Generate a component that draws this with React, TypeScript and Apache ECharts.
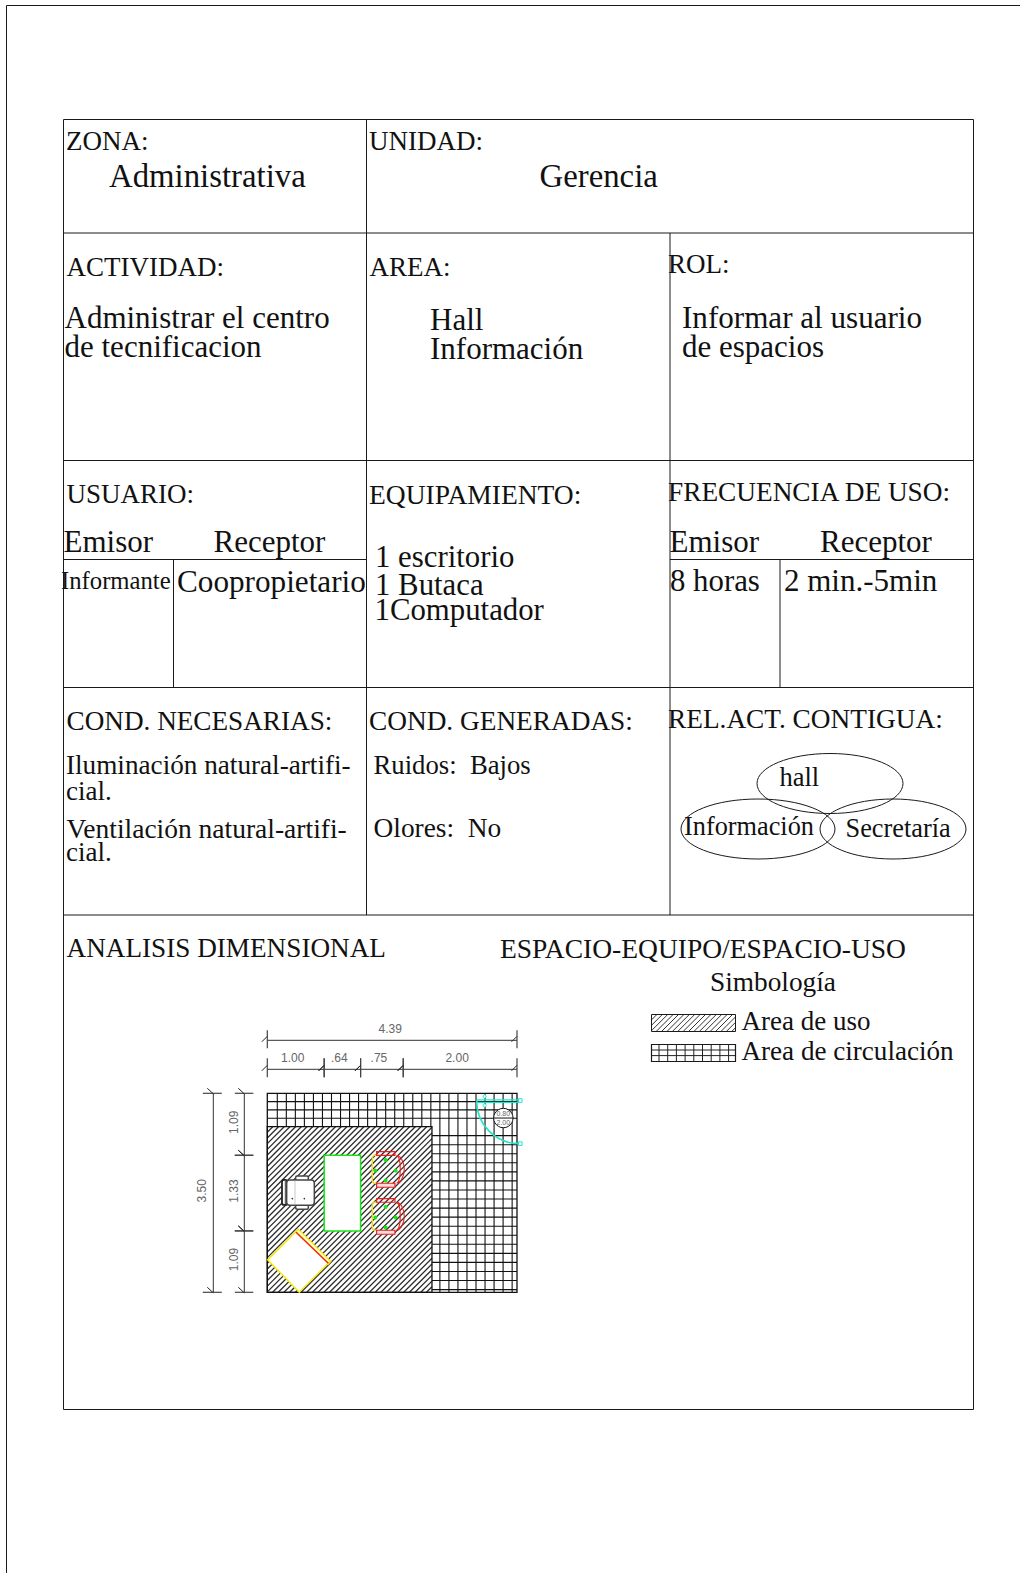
import React, { useEffect, useRef } from "react";
import * as echarts from "echarts";

// ---------- content ----------
const headings = ["ZONA:", "UNIDAD:", "ACTIVIDAD:", "AREA:", "ROL:", "USUARIO:", "EQUIPAMIENTO:", "FRECUENCIA DE USO:", "COND. NECESARIAS:", "COND. GENERADAS:", "REL.ACT. CONTIGUA:", "ANALISIS DIMENSIONAL", "ESPACIO-EQUIPO/ESPACIO-USO", "Simbología"];
const zoneValues = ["Administrativa", "Gerencia"];
const activityLines = ["Administrar el centro", "de tecnificacion"];
const areaLines = ["Hall", "Información"];
const roleLines = ["Informar al usuario", "de espacios"];
const userLabels = ["Emisor", "Receptor", "Emisor", "Receptor"];
const userValues = ["Informante", "Coopropietario", "8 horas", "2 min.-5min"];
const equipmentLines = ["1 escritorio", "1 Butaca", "1Computador"];
const conditionLines = ["Iluminación natural-artifi-", "cial.", "Ventilación natural-artifi-", "cial.", "Ruidos:  Bajos", "Olores:  No"];
const neighbours = ["hall", "Información", "Secretaría"];
const legendLabels = ["Area de uso", "Area de circulación"];
const widthChain = [1.0, 0.64, 0.75, 2.0];
const widthLabels = ["1.00", ".64", ".75", "2.00"];
const widthTotal = 4.39;
const heightChain = [1.09, 1.33, 1.09];
const heightLabels = ["1.09", "1.33", "1.09"];
const heightTotal = 3.5;
const doorLabels = ["0.80", "2.00"];

// ---------- layout ----------
const SERIF = "'Liberation Serif', 'Times New Roman', serif";
const SANS = "'Liberation Sans', Arial, sans-serif";
const INK = "#1a1a1a";
const headingAt = [[66, 141], [369, 141], [66.5, 267], [369.5, 267], [668, 264], [66.5, 494], [369, 494], [668, 492], [66.5, 721], [369, 721], [668, 719], [66.5, 948], [500, 948], [710, 982]];
const headingSize = [27, 27, 27, 27, 27, 27, 27.5, 27.3, 27.2, 27.3, 27.3, 27.2, 27.5, 27.3];

const T = (text: string, x: number, y: number, fontSize: number, extra: any = {}) => ({
  type: "text", x, y, silent: true,
  style: { text, fontSize, fontFamily: SERIF, fill: "#111", textVerticalAlign: "middle", ...extra },
});
const L = (x1: number, y1: number, x2: number, y2: number, stroke = INK, lineWidth = 1) => ({
  type: "line", silent: true, shape: { x1, y1, x2, y2 }, style: { stroke, lineWidth },
});

// diagonal "/" hatch clipped to a box
function hatch(x0: number, y0: number, x1: number, y1: number, step: number) {
  const out: number[][] = [];
  const w = x1 - x0, h = y1 - y0;
  for (let c = step; c < w + h; c += step) {
    const ax = c <= h ? x0 : x0 + (c - h);
    const ay = c <= h ? y0 + c : y1;
    const bx = c <= w ? x0 + c : x1;
    const by = c <= w ? y0 : y0 + (c - w);
    out.push([ax, ay, bx, by]);
  }
  return out;
}

function pageGraphics() {
  const g: any[] = [];
  // sheet frame
  g.push(L(6.5, 5.5, 1020, 5.5), L(6.5, 5.5, 6.5, 1573));
  // table
  const X0 = 63.5, X1 = 366.5, X2 = 670, X3 = 973.5;
  const Y = [119.5, 233, 460.5, 687.5, 915, 1409.5];
  Y.forEach((y) => g.push(L(X0, y, X3, y)));
  g.push(L(X0, Y[0], X0, Y[5]), L(X3, Y[0], X3, Y[5]));
  g.push(L(X1, Y[0], X1, Y[4]), L(X2, Y[1], X2, Y[4]));
  g.push(L(X0, 559.5, X1, 559.5), L(X2, 559.5, X3, 559.5), L(173.5, 559.5, 173.5, Y[3]), L(780, 559.5, 780, Y[3]));

  headings.forEach((h, i) => g.push(T(h, headingAt[i][0], headingAt[i][1], headingSize[i])));
  g.push(T(zoneValues[0], 109, 175.5, 32.8), T(zoneValues[1], 539.5, 175.5, 32.8));
  g.push(T(activityLines[0], 64.5, 317, 31), T(activityLines[1], 64.5, 346, 31));
  g.push(T(areaLines[0], 430, 319, 31), T(areaLines[1], 430, 348, 31));
  g.push(T(roleLines[0], 682, 317, 31.1), T(roleLines[1], 682, 346, 31));
  [[63.5, 541], [213.5, 541], [669.5, 541], [820, 541]].forEach((p, i) => g.push(T(userLabels[i], p[0], p[1], 31)));
  g.push(T(userValues[0], 61, 580, 24.7), T(userValues[1], 177, 581, 31.2), T(userValues[2], 670, 580.5, 30.8), T(userValues[3], 784, 580.5, 31));
  g.push(T(equipmentLines[0], 375, 557, 30.8), T(equipmentLines[1], 375, 585, 30.8), T(equipmentLines[2], 374.5, 610, 30.8));
  const condSize = [27.2, 27, 27.5, 27, 26.7, 27.4];
  [[66, 764.5], [66, 791], [66.5, 828], [66, 852], [373.5, 764.5], [373.5, 828]].forEach((p, i) => g.push(T(conditionLines[i], p[0], p[1], condSize[i])));

  // relation bubbles
  [[830, 783.5, 73, 30], [758, 829, 77, 30], [893, 829, 73, 30]].forEach(([cx, cy, rx, ry]) =>
    g.push({ type: "ellipse", silent: true, shape: { cx, cy, rx, ry }, style: { fill: "none", stroke: INK, lineWidth: 1 } })
  );
  g.push(T(neighbours[0], 779.5, 777, 26.5), T(neighbours[1], 684, 826.5, 26.3), T(neighbours[2], 845.5, 828, 26.3));

  // legend
  const [lx0, lx1] = [651.5, 735.5];
  hatch(lx0, 1014.5, lx1, 1031.5, 5.4).forEach((s) => g.push(L(s[0], s[1], s[2], s[3], "#333", 1)));
  g.push({ type: "rect", silent: true, shape: { x: lx0, y: 1014.5, width: lx1 - lx0, height: 17 }, style: { fill: "none", stroke: INK, lineWidth: 1 } });
  for (let x = lx0 + 7.5; x < lx1; x += 8.7) g.push(L(x, 1044.5, x, 1061.5, "#222", 1));
  for (let y = 1050; y < 1060; y += 5.6) g.push(L(lx0, y, lx1, y, "#222", 1));
  g.push({ type: "rect", silent: true, shape: { x: lx0, y: 1044.5, width: lx1 - lx0, height: 17 }, style: { fill: "none", stroke: INK, lineWidth: 1.2 } });
  g.push(T(legendLabels[0], 741.5, 1020.5, 27), T(legendLabels[1], 741.5, 1050.5, 27.1));
  return g;
}

// ---------- floor plan, drawn through the metre axes ----------
function renderPlan(_p: any, api: any) {
  const c: any[] = [];
  const P = (x: number, y: number) => api.coord([x, y]);
  const line = (a: number[], b: number[], stroke = "#111", lineWidth = 1.1) => ({
    type: "line", silent: true, shape: { x1: a[0], y1: a[1], x2: b[0], y2: b[1] }, style: { stroke, lineWidth },
  });
  const useRight = 2.895, useTop = 0.585;
  const [x0, y0] = P(0, 0);
  const [x1, y1] = P(widthTotal, heightTotal);
  const [ux, uy] = P(useRight, useTop);

  // circulation grid
  for (let x = 0.1757; x < widthTotal; x += 0.1588) {
    c.push(line(P(x, 0), P(x, x < useRight ? useTop : heightTotal)));
  }
  for (let y = 0.146; y < useTop - 0.01; y += 0.146) c.push(line(P(0, y), P(widthTotal, y)));
  for (let y = useTop + 0.1593; y < heightTotal; y += 0.1593) c.push(line(P(useRight, y), P(widthTotal, y)));

  // use area hatch
  hatch(x0, uy, ux, y1, 5.7).forEach((s) => c.push(line([s[0], s[1]], [s[2], s[3]], "#2a2a2a", 1.25)));
  c.push({ type: "rect", silent: true, shape: { x: x0, y: uy, width: ux - x0, height: y1 - uy }, style: { fill: "none", stroke: "#111", lineWidth: 1.3 } });
  c.push({ type: "rect", silent: true, shape: { x: x0, y: y0, width: x1 - x0, height: y1 - y0 }, style: { fill: "none", stroke: "#111", lineWidth: 1.3 } });

  // helper: furniture offsets are measured on the plan at its own scale
  const Z = (zx: number, zy: number) => P((260 + zx / 3 - 267.3) / 56.9, (1140 + zy / 3 - 1093.3) / 56.9);
  const poly = (pts: number[][], stroke: string, fill = "none", lineWidth = 1.5) => ({
    type: "polygon", silent: true, shape: { points: pts }, style: { fill, stroke, lineWidth },
  });
  const pline = (pts: number[][], stroke: string, lineWidth = 1.1) => ({
    type: "polyline", silent: true, shape: { points: pts }, style: { fill: "none", stroke, lineWidth },
  });
  const box = (a: number, b: number, cc: number, d: number, stroke: string, fill = "#fff", r = 0, lineWidth = 1.3) => {
    const p0 = Z(a, b), p1 = Z(cc, d);
    return { type: "rect", silent: true, shape: { x: p0[0], y: p0[1], width: p1[0] - p0[0], height: p1[1] - p0[1], r }, style: { fill, stroke, lineWidth } };
  };

  // desk
  const cum = [0, widthChain[0], widthChain[0] + widthChain[1]];
  const deskA = P(cum[1], heightChain[0]), deskB = P(cum[2], heightChain[0] + heightChain[1]);
  c.push({ type: "rect", silent: true, shape: { x: deskA[0], y: deskA[1], width: deskB[0] - deskA[0], height: deskB[1] - deskA[1] }, style: { fill: "#fff", stroke: "#14e614", lineWidth: 1.5 } });

  // corner cabinet
  c.push(poly([Z(115, 268), Z(212, 365), Z(205, 372), Z(108, 275)], "#f8ea10", "#fff"));
  c.push(poly([Z(23, 360), Z(108, 275), Z(205, 370), Z(118, 457)], "#f8ea10", "#fff"));
  c.push(line(Z(108, 277), Z(205, 370), "#ef2a10", 1.4));

  // armchair
  const GR = "#444";
  c.push(box(107, 108, 145, 126, GR, "#fff", 1.5, 1.5));
  c.push(box(107, 190, 145, 208, GR, "#fff", 1.5, 1.5));
  c.push(box(66, 120, 82, 195, "#222", "#fff", 2, 1.8));
  c.push(box(80, 120, 163, 196, GR, "#fff", 3, 1.5));
  c.push(line(Z(76, 122), Z(76, 193), GR, 1));
  c.push(line(Z(105, 122), Z(105, 193), "#bbb", 0.8));
  [[97, 140], [97, 176], [133, 140], [133, 176]].forEach(([a, b]) => {
    const q = Z(a, b);
    c.push({ type: "circle", silent: true, shape: { cx: q[0], cy: q[1], r: 0.8 }, style: { fill: "#333" } });
  });

  // visitor chairs
  [0, 141].forEach((dz) => {
    const Y = (v: number) => v + dz;
    c.push(pline([Z(352, Y(46)), Z(342, Y(46)), Z(337, Y(52)), Z(337, Y(124)), Z(342, Y(130)), Z(352, Y(130))], "#f2d81a", 1.4));
    c.push(box(350, Y(35), 405, Y(46), "#ee1c1c", "none", 0, 1.2));
    c.push(box(350, Y(130), 405, Y(142), "#ee1c1c", "#fcdcdc", 0, 1.2));
    c.push(pline([Z(410, Y(46)), Z(416, Y(52)), Z(420, Y(68)), Z(421, Y(88)), Z(420, Y(108)), Z(416, Y(124)), Z(410, Y(130))], "#ee1c1c"));
    c.push(pline([Z(414, Y(46)), Z(424, Y(55)), Z(431, Y(72)), Z(433, Y(88)), Z(431, Y(104)), Z(424, Y(121)), Z(414, Y(130))], "#ee1c1c"));
    [[377, 60], [346, 92], [407, 92], [377, 122]].forEach(([a, b]) => {
      const q = Z(a, Y(b));
      c.push({ type: "circle", silent: true, shape: { cx: q[0], cy: q[1], r: 2 }, style: { fill: "#14e614" } });
    });
  });

  // door
  const CY = "#1ce8c8";
  const hingeC = P(4.43, 0.135);
  const doorR = P(4.43 + 0.75, 0)[0] - hingeC[0];
  c.push({ type: "arc", silent: true, shape: { cx: hingeC[0], cy: hingeC[1], r: doorR, startAngle: Math.PI / 2, endAngle: Math.PI, clockwise: true }, style: { fill: "none", stroke: CY, lineWidth: 1.6 } });
  c.push(line([hingeC[0] - doorR, hingeC[1] - 1.2], [hingeC[0], hingeC[1] - 1.2], CY, 1.3));
  c.push(line([hingeC[0] - doorR, hingeC[1] + 1.4], [hingeC[0], hingeC[1] + 1.4], CY, 1.3));
  [[hingeC[0] + 1, hingeC[1] - 0.5], [hingeC[0] + 1, hingeC[1] + doorR]].forEach((q) =>
    c.push({ type: "rect", silent: true, shape: { x: q[0] - 1.8, y: q[1] - 1.8, width: 3.6, height: 3.6 }, style: { fill: "#fff", stroke: CY, lineWidth: 1 } })
  );
  [-4.5, 4.5].forEach((d) => c.push({ type: "circle", silent: true, shape: { cx: hingeC[0] - doorR + 8, cy: hingeC[1] + d, r: 1.6 }, style: { fill: "#fff", stroke: CY, lineWidth: 1 } }));

  // door tag
  const tag = P(4.15, 0.435);
  c.push({ type: "circle", silent: true, shape: { cx: tag[0], cy: tag[1], r: 9.7 }, style: { fill: "#fff", stroke: "#111", lineWidth: 1 } });
  c.push(line([tag[0] - 9.7, tag[1]], [tag[0] + 9.7, tag[1]], "#111", 1));
  const small = (t: string, x: number, y: number, fs: number, rotation = 0) => ({
    type: "text", silent: true, x, y, rotation,
    style: { text: t, fontSize: fs, fontFamily: SANS, fill: "#666", textAlign: "center", textVerticalAlign: "middle" },
  });
  c.push(small(doorLabels[0], tag[0], tag[1] - 4.5, 7), small(doorLabels[1], tag[0], tag[1] + 4.5, 7));

  // horizontal dimensions
  const DIM = "#333";
  const hDim = (a: number, b: number, y: number, t0: number, t1: number, text: string, tx: number, ty: number, ticks: number[]) => {
    const A = P(a, 0)[0], B = P(b, 0)[0];
    c.push(line([A, y], [B, y], DIM, 1));
    ticks.forEach((v) => {
      const X = P(v, 0)[0];
      c.push(line([X, t0], [X, t1], "#444", 1.2));
      c.push(line([X - 5.5, y + 1.5], [X, y - 4], "#222", 1));
    });
    c.push(small(text, (A + B) / 2 + tx, ty, 12));
  };
  hDim(0, widthTotal, y0 - 53, y0 - 63, y0 - 45, String(widthTotal), -2, y0 - 64, [0, widthTotal]);
  let run = 0;
  widthChain.forEach((w, i) => {
    hDim(run, run + w, y0 - 24, y0 - 35, y0 - 16, widthLabels[i], -3, y0 - 35.5, [run, run + w]);
    run += w;
  });

  // vertical dimensions
  const vDim = (a: number, b: number, x: number, t0: number, t1: number, text: string, tx: number, off: number) => {
    const A = P(0, a)[1], B = P(0, b)[1];
    c.push(line([x, A], [x, B], DIM, 1));
    [A, B].forEach((Yy) => {
      c.push(line([t0, Yy], [t1, Yy], "#444", 1.2));
      c.push(line([x - 6, Yy - 5], [x, Yy + 0.5], "#222", 1));
    });
    c.push(small(text, tx, (A + B) / 2 + off, 12, Math.PI / 2));
  };
  vDim(0, heightTotal, x0 - 54, x0 - 64.5, x0 - 45.5, heightTotal.toFixed(2), x0 - 65.5, -2);
  let vrun = 0;
  heightChain.forEach((h, i) => {
    vDim(vrun, Math.min(vrun + h, heightTotal), x0 - 23, x0 - 32.5, x0 - 14, heightLabels[i], x0 - 33.5, -2);
    vrun += h;
  });

  return { type: "group", children: c };
}

export default function App() {
  const ref = useRef<HTMLDivElement>(null);
  useEffect(() => {
    document.body.style.margin = "0";
    const chart = echarts.init(ref.current!, undefined, { renderer: "svg" });
    chart.setOption({
      animation: false,
      backgroundColor: "#fff",
      grid: { left: 267.3, top: 1093.3, width: 249.7, height: 199, containLabel: false },
      xAxis: { type: "value", min: 0, max: widthTotal, show: false },
      yAxis: { type: "value", min: 0, max: heightTotal, inverse: true, show: false },
      series: [{ type: "custom", coordinateSystem: "cartesian2d", clip: false, silent: true, data: [[0, 0]], renderItem: renderPlan }],
      graphic: pageGraphics(),
    });
    return () => chart.dispose();
  }, []);
  return <div ref={ref} style={{ width: 1020, height: 1573 }} />;
}
